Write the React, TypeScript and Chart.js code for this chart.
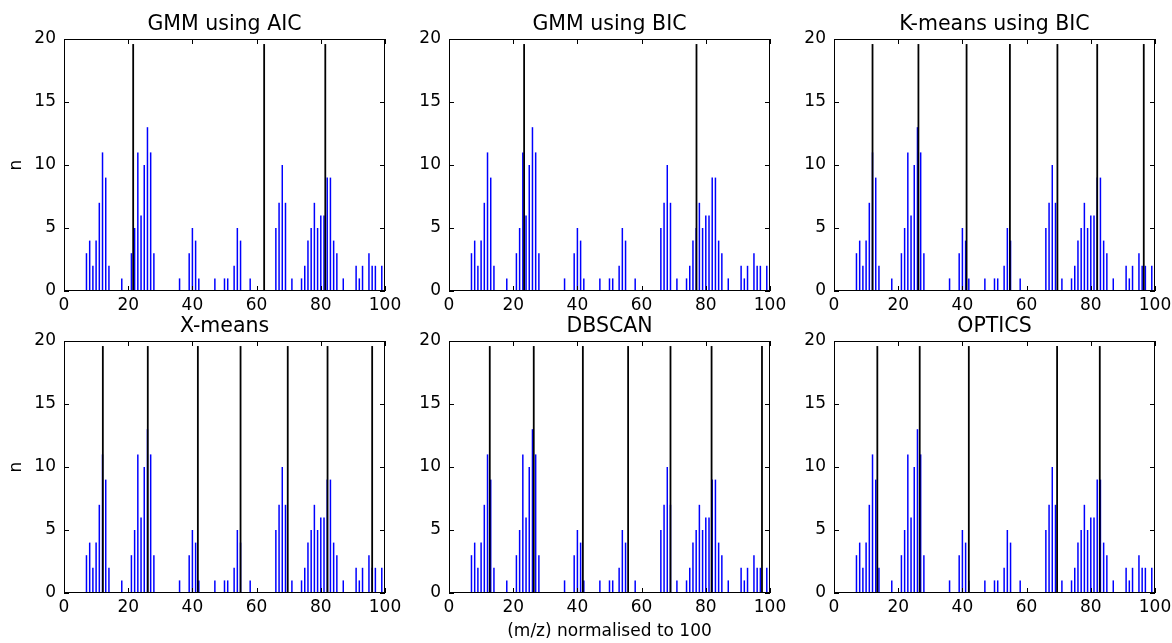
import React, { useEffect, useRef } from 'react';
import { Chart, registerables } from 'chart.js';

Chart.register(...registerables);

const FONT = "'DejaVu Sans', 'Liberation Sans', sans-serif";
Chart.defaults.font.family = FONT;
Chart.defaults.color = '#000';

// Histogram: bin position (m/z normalised to 100) and count n
const BIN_X = [
  0, 7, 8, 9, 10, 11, 12, 13, 14, 18, 21, 22, 23, 24, 25, 26, 27, 28, 36, 39, 40, 41, 42,
  47, 50, 51, 53, 54, 55, 58, 66, 67, 68, 69, 71, 74, 75, 76, 77, 78, 79, 80, 81, 82, 83,
  84, 85, 87, 91, 92, 93, 95, 96, 97, 99,
];
const BIN_COUNTS = [
  1, 3, 4, 2, 4, 7, 11, 9, 2, 1, 3, 5, 11, 6, 10, 13, 11, 3, 1, 3, 5, 4, 1,
  1, 1, 1, 2, 5, 4, 1, 5, 7, 10, 7, 1, 1, 2, 4, 5, 7, 5, 6, 6, 9, 9,
  4, 3, 1, 2, 1, 2, 3, 2, 2, 2,
];

// Cluster centres found by each method
const GMM_AIC_CENTERS = [21.55, 62.35, 81.4];
const GMM_BIC_CENTERS = [23.4, 77.1];
const KMEANS_BIC_CENTERS = [12.0, 26.3, 41.3, 54.8, 69.6, 82.0, 96.5];
const XMEANS_CENTERS = [12.1, 26.1, 41.7, 55.0, 69.7, 82.1, 96.0];
const DBSCAN_CENTERS = [12.7, 26.4, 41.7, 55.8, 69.0, 81.8, 97.5];
const OPTICS_CENTERS = [13.5, 26.7, 42.0, 69.5, 82.8];
const CENTER_LINE_HEIGHT = 19.6;

const PANEL_TITLES = ['GMM using AIC', 'GMM using BIC', 'K-means using BIC', 'X-means', 'DBSCAN', 'OPTICS'];
const PANEL_CENTERS = [GMM_AIC_CENTERS, GMM_BIC_CENTERS, KMEANS_BIC_CENTERS, XMEANS_CENTERS, DBSCAN_CENTERS, OPTICS_CENTERS];

const X_LABEL = '(m/z) normalised to 100';
const Y_LABEL = 'n';

const PLOT_LEFTS = [64, 449, 834];
const PLOT_TOPS = [39, 341];
const PLOT_W = 321;
const PLOT_H = 252;
const AXIS_W = 60;
const TOP_SPACE = 39;
const BOTTOM_SPACE = 50;
const RIGHT_SPACE = 25;

const framePlugin = {
  id: 'mplFrame',
  afterDraw(chart: any) {
    const { ctx, chartArea: a, scales } = chart;
    ctx.save();
    ctx.strokeStyle = '#000';
    ctx.lineWidth = 1;
    ctx.strokeRect(a.left + 0.5, a.top + 0.5, a.width - 1, a.height - 1);
    const L = 5;
    ctx.beginPath();
    scales.x.ticks.forEach((t: any) => {
      const px = Math.round(scales.x.getPixelForValue(t.value)) + 0.5;
      ctx.moveTo(px, a.bottom);
      ctx.lineTo(px, a.bottom - L);
      ctx.moveTo(px, a.top);
      ctx.lineTo(px, a.top + L);
    });
    scales.y.ticks.forEach((t: any) => {
      const py = Math.round(scales.y.getPixelForValue(t.value)) + 0.5;
      ctx.moveTo(a.left, py);
      ctx.lineTo(a.left + L, py);
      ctx.moveTo(a.right, py);
      ctx.lineTo(a.right - L, py);
    });
    ctx.stroke();
    ctx.restore();
  },
};

function Panel({ index }: { index: number }) {
  const ref = useRef<HTMLCanvasElement>(null);
  const col = index % 3;
  const row = Math.floor(index / 3);
  const left = PLOT_LEFTS[col] - AXIS_W;
  const top = PLOT_TOPS[row] - TOP_SPACE;
  const W = AXIS_W + PLOT_W + RIGHT_SPACE;
  const H = TOP_SPACE + PLOT_H + BOTTOM_SPACE;

  useEffect(() => {
    if (!ref.current) return;
    const centers = PANEL_CENTERS[index];
    const chart = new Chart(ref.current, {
      type: 'bar',
      data: {
        datasets: [
          {
            label: 'centres',
            data: centers.map((c) => ({ x: c, y: CENTER_LINE_HEIGHT })),
            backgroundColor: '#000',
            barThickness: 1.8,
            grouped: false,
            inflateAmount: 0,
            order: 0,
          } as any,
          {
            label: 'counts',
            data: BIN_X.map((b, i) => ({ x: b, y: BIN_COUNTS[i] })),
            backgroundColor: '#0000ff',
            barThickness: 1.5,
            grouped: false,
            inflateAmount: 0,
            order: 1,
          } as any,
        ],
      },
      options: {
        animation: false,
        responsive: false,
        devicePixelRatio: 1,
        layout: { padding: { top: 12.2, left: 0, right: RIGHT_SPACE, bottom: 0 } },
        plugins: {
          legend: { display: false },
          tooltip: { enabled: false },
          title: {
            display: true,
            text: PANEL_TITLES[index],
            fullSize: false,
            color: '#000',
            font: { size: 20.5, weight: 'normal', family: FONT },
            padding: { top: 0, bottom: 2.2 },
          },
        },
        scales: {
          x: {
            type: 'linear',
            min: 0,
            max: 100,
            offset: false,
            grid: { display: false, drawTicks: false, offset: false },
            border: { display: false },
            ticks: { stepSize: 20, font: { size: 17 }, color: '#000', padding: 4.8, maxRotation: 0, autoSkip: false },
            title: {
              display: index === 4,
              text: X_LABEL,
              color: '#000',
              font: { size: 17, family: FONT },
              padding: { top: 0, bottom: 0.8 },
            },
            afterFit: (s: any) => {
              s.height = BOTTOM_SPACE;
            },
          },
          y: {
            type: 'linear',
            min: 0,
            max: 20,
            grid: { display: false, drawTicks: false },
            border: { display: false },
            ticks: { stepSize: 5, font: { size: 17 }, color: '#000', padding: 8 },
            title: {
              display: col === 0,
              text: Y_LABEL,
              color: '#000',
              font: { size: 17, family: FONT },
              padding: { top: 2.5, bottom: 0 },
            },
            afterFit: (s: any) => {
              s.width = AXIS_W;
            },
          },
        },
      } as any,
      plugins: [framePlugin],
    });
    return () => chart.destroy();
  }, [index]);

  return (
    <canvas
      ref={ref}
      width={W}
      height={H}
      style={{ position: 'absolute', left, top, width: W, height: H }}
    />
  );
}

export default function App() {
  return (
    <div
      style={{
        position: 'absolute',
        left: 0,
        top: 0,
        width: 1172,
        height: 643,
        background: '#fff',
        overflow: 'hidden',
      }}
    >
      {PANEL_TITLES.map((_, i) => (
        <Panel key={i} index={i} />
      ))}
    </div>
  );
}
